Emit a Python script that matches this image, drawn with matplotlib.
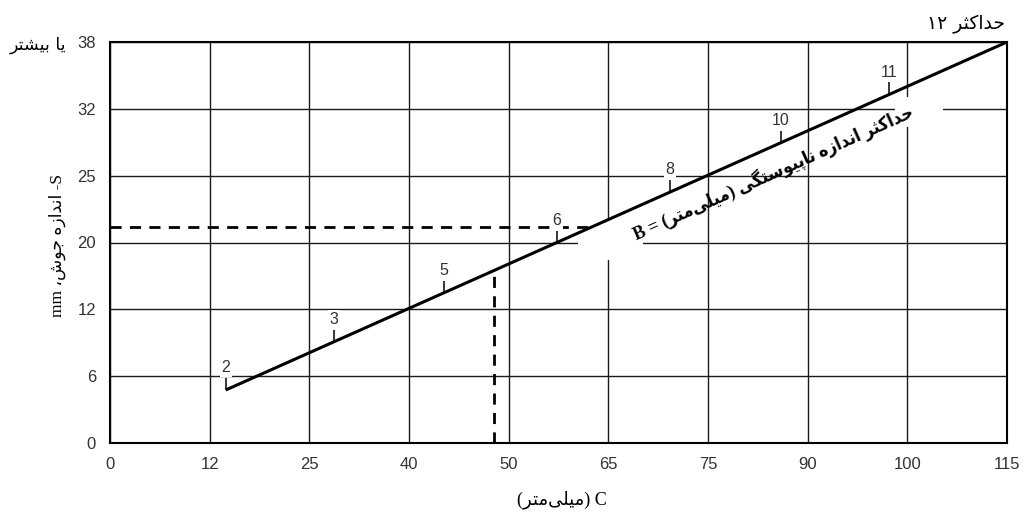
import numpy as np
import matplotlib
matplotlib.use("Agg")
import matplotlib.pyplot as plt
from matplotlib.path import Path
from matplotlib.patches import Rectangle

# ---- data -------------------------------------------------------------
x_ticks = [0, 12, 25, 40, 50, 65, 75, 90, 100, 115]      # C (mm)
y_ticks = [0, 6, 12, 20, 25, 32, 38]                      # S (mm)

line_c = [14.1, 115]          # max discontinuity line, C values
line_s = [4.76, 38]           # matching S values

mark_c = [14.1, 28.7, 43.5, 57.2, 71.2, 86.0, 98.2]       # B marks along the line
mark_labels = ['2', '3', '5', '6', '8', '10', '11']

example_c = 48.5              # worked example: C
example_s = 21.16             # worked example: S

# ---- minimal Persian shaping (presentation forms, visual order) -------
FORMS = {
    '\u0627': ('\uFE8D', '\uFE8E', None, None),
    '\u0628': ('\uFE8F', '\uFE90', '\uFE91', '\uFE92'),
    '\u067E': ('\uFB56', '\uFB57', '\uFB58', '\uFB59'),
    '\u062A': ('\uFE95', '\uFE96', '\uFE97', '\uFE98'),
    '\u062B': ('\uFE99', '\uFE9A', '\uFE9B', '\uFE9C'),
    '\u062C': ('\uFE9D', '\uFE9E', '\uFE9F', '\uFEA0'),
    '\u062D': ('\uFEA1', '\uFEA2', '\uFEA3', '\uFEA4'),
    '\u062F': ('\uFEA9', '\uFEAA', None, None),
    '\u0631': ('\uFEAD', '\uFEAE', None, None),
    '\u0632': ('\uFEAF', '\uFEB0', None, None),
    '\u0633': ('\uFEB1', '\uFEB2', '\uFEB3', '\uFEB4'),
    '\u0634': ('\uFEB5', '\uFEB6', '\uFEB7', '\uFEB8'),
    '\u06A9': ('\uFB8E', '\uFB8F', '\uFB90', '\uFB91'),
    '\u06AF': ('\uFB92', '\uFB93', '\uFB94', '\uFB95'),
    '\u0644': ('\uFEDD', '\uFEDE', '\uFEDF', '\uFEE0'),
    '\u0645': ('\uFEE1', '\uFEE2', '\uFEE3', '\uFEE4'),
    '\u0646': ('\uFEE5', '\uFEE6', '\uFEE7', '\uFEE8'),
    '\u0647': ('\uFEE9', '\uFEEA', '\uFEEB', '\uFEEC'),
    '\u0648': ('\uFEED', '\uFEEE', None, None),
    '\u06CC': ('\uFBFC', '\uFBFD', '\uFBFE', '\uFBFF'),
}


def fa(text):
    chars = list(text)
    out = []
    for i, ch in enumerate(chars):
        if ch not in FORMS:
            if ch != '\u200c':
                out.append(ch)
            continue
        prev = chars[i - 1] if i > 0 else None
        nxt = chars[i + 1] if i + 1 < len(chars) else None
        join_prev = prev in FORMS and FORMS[prev][2] is not None
        join_next = nxt in FORMS and FORMS[ch][2] is not None
        iso, fin, ini, med = FORMS[ch]
        if join_prev and join_next:
            out.append(med)
        elif join_prev:
            out.append(fin)
        elif join_next:
            out.append(ini)
        else:
            out.append(iso)
    return ''.join(out)[::-1]


# ---- piecewise scales: tick values are evenly spaced -----------------
xi = np.arange(len(x_ticks), dtype=float)
yi = np.arange(len(y_ticks), dtype=float)


def fx(v):
    return np.interp(v, x_ticks, xi)


def fx_inv(v):
    return np.interp(v, xi, x_ticks)


def fy(v):
    return np.interp(v, y_ticks, yi)


def fy_inv(v):
    return np.interp(v, yi, y_ticks)


def s_on_line(c):
    # the line is straight on the evenly spaced grid
    u = fx(np.asarray(c, float))
    x0, x1 = fx(line_c[0]), fx(line_c[1])
    y0, y1 = fy(line_s[0]), fy(line_s[1])
    return fy_inv(y0 + (u - x0) * (y1 - y0) / (x1 - x0))


def c_on_line(s):
    v = fy(np.asarray(s, float))
    x0, x1 = fx(line_c[0]), fx(line_c[1])
    y0, y1 = fy(line_s[0]), fy(line_s[1])
    return fx_inv(x0 + (v - y0) * (x1 - x0) / (y1 - y0))


# ---- figure -----------------------------------------------------------
W, H = 1025, 515
fig = plt.figure(figsize=(W / 100, H / 100), dpi=100)
L, R, T, B = 110, 1007, 42, 443
ax = fig.add_axes([L / W, (H - B) / H, (R - L) / W, (B - T) / H])

ax.set_xscale('function', functions=(fx, fx_inv))
ax.set_yscale('function', functions=(fy, fy_inv))
ax.set_xlim(x_ticks[0], x_ticks[-1])
ax.set_ylim(y_ticks[0], y_ticks[-1])
ax.set_xticks(x_ticks)
ax.set_yticks(y_ticks)
ax.set_xticklabels([str(v) for v in x_ticks])
ax.set_yticklabels([str(v) for v in y_ticks])
ax.tick_params(length=0, labelsize=12, labelcolor='#333333')
ax.tick_params(axis='x', pad=10)
ax.tick_params(axis='y', pad=10)
for lab in ax.get_xticklabels() + ax.get_yticklabels():
    lab.set_fontfamily('Liberation Sans')

ax.grid(True, color='#1a1a1a', lw=1.0, zorder=1)
ax.set_axisbelow(True)
for sp in ax.spines.values():
    sp.set_linewidth(1.5)
    sp.set_color('black')
    sp.set_zorder(6)


def px_box(x0, y0, x1, y1):
    return Rectangle(((x0 - L) / (R - L), (B - y1) / (B - T)),
                     (x1 - x0) / (R - L), (y1 - y0) / (B - T),
                     transform=ax.transAxes, facecolor='white',
                     edgecolor='none', zorder=2)


# clear areas behind the ends of the rotated caption
ax.add_patch(px_box(578, 233, 643, 260))
ax.add_patch(px_box(598, 221, 630, 234))
ax.add_patch(px_box(895, 97, 943, 127))

# worked example (dashed guides)
ax.plot([x_ticks[0], c_on_line(example_s)], [example_s, example_s],
        color='black', lw=2.0, dashes=(4, 3), zorder=3)
ax.plot([example_c, example_c], [y_ticks[0], s_on_line(example_c)],
        color='black', lw=2.0, dashes=(4, 3), zorder=3)

# main line
ax.plot(line_c, line_s, color='black', lw=2.2, zorder=4,
        solid_capstyle='butt')

# marks along the line
tick_path = Path([(0, 0), (0, 1)])
mark_s = s_on_line(mark_c)
ax.plot(mark_c, mark_s, ls='none', marker=tick_path, ms=17, mew=1.1,
        color='black', zorder=4)
for c, s, t in zip(mark_c, mark_s, mark_labels):
    ax.annotate(t, (c, s), xytext=(0, 16), textcoords='offset points',
                ha='center', va='center', fontsize=11.5, color='#333333',
                family='Liberation Sans', zorder=5,
                bbox=dict(boxstyle='square,pad=0.1', fc='white', ec='none'))

# caption along the line
caption = 'B = (' + fa('میلی\u200cمتر') + ') ' + fa('حداکثر اندازه ناپیوستگی')
ax.text((773 - L) / (R - L), (B - 173) / (B - T), caption,
        transform=ax.transAxes, rotation=24, rotation_mode='anchor',
        ha='center', va='center', fontsize=13, fontweight='bold',
        fontstretch='condensed',
        family=['Liberation Serif', 'DejaVu Sans'], zorder=5)

# axis titles and side notes
fig.text(562 / W, 1 - 500 / H, '(' + fa('میلی\u200cمتر') + ') C',
         ha='center', va='center', fontsize=13,
         family=['Liberation Serif', 'DejaVu Sans'])
fig.text(57 / W, 1 - 245 / H, 'mm ' + fa('اندازه جوش،') + ' -S',
         rotation=90, ha='center', va='center', fontsize=12.5,
         family=['Liberation Serif', 'DejaVu Sans'])
fig.text(10 / W, 1 - 45 / H, fa('یا بیشتر'), ha='left', va='center',
         fontsize=12.5, family=['DejaVu Sans'])
fig.text(1005 / W, 1 - 24 / H, '۱۲ ' + fa('حداکثر'), ha='right',
         va='center', fontsize=13.5, family=['DejaVu Sans'])

fig.savefig('out.png', dpi=100, facecolor='white')
